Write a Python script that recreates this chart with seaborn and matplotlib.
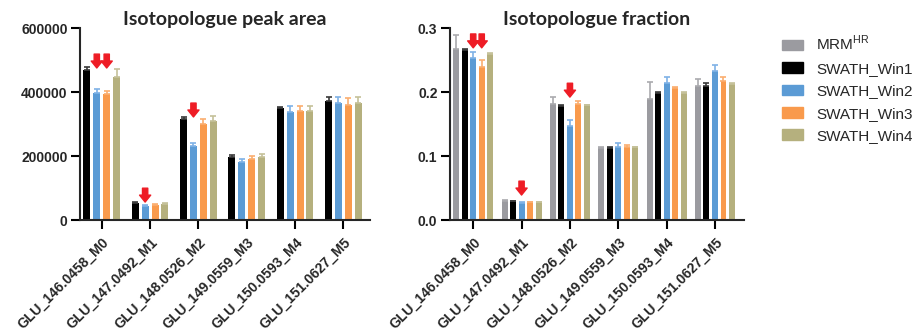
import numpy as np
import pandas as pd
import matplotlib
matplotlib.use("Agg")
import matplotlib.pyplot as plt
import seaborn as sns

# ---- data -------------------------------------------------------------
isotopologues = ["GLU_146.0458_M0", "GLU_147.0492_M1", "GLU_148.0526_M2",
                 "GLU_149.0559_M3", "GLU_150.0593_M4", "GLU_151.0627_M5"]
series = ["MRM$^{\\mathrm{HR}}$", "SWATH_Win1", "SWATH_Win2", "SWATH_Win3", "SWATH_Win4"]
bar_colors = ["#9b9ba0", "#000000", "#5b9bd5", "#f99a4c", "#b5b07e"]
err_colors = ["#aaaaae", "#3a3a3a", "#7fb2e6", "#fbae70", "#c5c199"]

# peak area (mean, SD) for the SWATH windows
area_win1 = [470000, 54000, 315000, 198000, 349000, 372000]
area_win1_sd = [7000, 3000, 6000, 5000, 5000, 13000]
area_win2 = [396000, 44000, 231000, 181000, 339000, 367000]
area_win2_sd = [12000, 3000, 10000, 11000, 17000, 16000]
area_win3 = [394000, 47000, 300000, 190000, 342000, 359000]
area_win3_sd = [10000, 3000, 17000, 10000, 14000, 21000]
area_win4 = [446000, 51000, 310000, 196000, 342000, 367000]
area_win4_sd = [27000, 3000, 14000, 10000, 15000, 16000]

# isotopologue fraction (mean, SD)
frac_mrm = [0.267, 0.030, 0.182, 0.112, 0.189, 0.209]
frac_mrm_sd = [0.022, 0.002, 0.010, 0.0026, 0.027, 0.012]
frac_win1 = [0.266, 0.0297, 0.178, 0.1125, 0.198, 0.209]
frac_win1_sd = [0.0015, 0.0005, 0.0017, 0.001, 0.0015, 0.0045]
frac_win2 = [0.2526, 0.027, 0.147, 0.1146, 0.2146, 0.233]
frac_win2_sd = [0.010, 0.0016, 0.009, 0.0064, 0.0094, 0.0087]
frac_win3 = [0.2396, 0.0281, 0.181, 0.114, 0.207, 0.2177]
frac_win3_sd = [0.010, 0.0005, 0.0044, 0.003, 0.001, 0.0053]
frac_win4 = [0.259, 0.0281, 0.179, 0.1135, 0.198, 0.2125]
frac_win4_sd = [0.002, 0.0005, 0.001, 0.001, 0.0015, 0.0015]

# red markers: (isotopologue index, series name, arrow tip value)
area_arrows = [(0, "SWATH_Win2", 475000), (0, "SWATH_Win3", 475000),
               (1, "SWATH_Win2", 56000), (2, "SWATH_Win2", 322000)]
frac_arrows = [(0, "SWATH_Win2", 0.269), (0, "SWATH_Win3", 0.269),
               (1, "SWATH_Win2", 0.039), (2, "SWATH_Win2", 0.192)]


def long_table(names, means, sds):
    rows = []
    for name, m, s in zip(names, means, sds):
        for iso, v, e in zip(isotopologues, m, s):
            rows.append({"iso": iso, "series": name, "value": v, "sd": e})
    return pd.DataFrame(rows)


area_df = long_table(series[1:], [area_win1, area_win2, area_win3, area_win4],
                     [area_win1_sd, area_win2_sd, area_win3_sd, area_win4_sd])
frac_df = long_table(series, [frac_mrm, frac_win1, frac_win2, frac_win3, frac_win4],
                     [frac_mrm_sd, frac_win1_sd, frac_win2_sd, frac_win3_sd, frac_win4_sd])

# ---- style ------------------------------------------------------------
sns.set_theme(style="ticks")
plt.rcParams["font.family"] = ["Liberation Sans", "DejaVu Sans"]
plt.rcParams["mathtext.fontset"] = "custom"
plt.rcParams["mathtext.rm"] = "Liberation Sans"

fig = plt.figure(figsize=(9.17, 3.34), dpi=100)
ax1 = fig.add_axes([80 / 917, 114 / 334, 290 / 917, 192 / 334])
ax2 = fig.add_axes([450 / 917, 114 / 334, 294 / 917, 192 / 334])


def draw_panel(ax, df, names, width, arrows, title, ylim, yticks, ylabels, xlim):
    pal = {n: bar_colors[series.index(n)] for n in names}
    sns.barplot(data=df, x="iso", y="value", hue="series", hue_order=names,
                order=isotopologues, palette=pal, width=width, gap=0.3,
                errorbar=None, saturation=1, linewidth=0, legend=False, ax=ax)
    centers = {}
    for name, cont in zip(names, ax.containers):
        sub = df[df["series"] == name].set_index("iso").loc[isotopologues]
        xs = [p.get_x() + p.get_width() / 2 for p in cont.patches]
        hs = [p.get_height() for p in cont.patches]
        ec = err_colors[series.index(name)]
        ax.errorbar(xs, hs, yerr=[np.zeros(len(xs)), sub["sd"].values], fmt="none",
                    ecolor=ec, elinewidth=1.2, capsize=2.2, capthick=1.2, zorder=3)
        centers[name] = xs
    for gi, name, tip in arrows:
        ax.annotate("", xy=(centers[name][gi], tip), xytext=(0, 10),
                    textcoords="offset points",
                    arrowprops=dict(arrowstyle="simple,head_length=0.5,head_width=0.8,tail_width=0.38",
                                    color="#ee1c25", mutation_scale=10,
                                    shrinkA=0, shrinkB=0), zorder=5)
    ax.set_xlim(*xlim)
    ax.set_ylim(*ylim)
    ax.set_yticks(yticks)
    ax.set_yticklabels(ylabels, fontsize=10, fontweight="bold")
    ax.set_xticks(range(len(isotopologues)))
    ax.set_xticklabels(isotopologues, rotation=45, ha="right", va="top",
                       rotation_mode="anchor", fontsize=10, fontweight="bold")
    ax.set_xlabel("")
    ax.set_ylabel("")
    ax.set_title(title, fontsize=14, fontweight="bold", family="Lato", pad=1)
    for side in ("left", "bottom"):
        ax.spines[side].set_linewidth(1.5)
    sns.despine(ax=ax)
    ax.tick_params(axis="both", length=6.5, width=1.5, pad=2.5, color="black")
    ax.tick_params(axis="x", pad=4.5)


draw_panel(ax1, area_df, series[1:], 0.82, area_arrows, "Isotopologue peak area",
           (0, 600000), [0, 200000, 400000, 600000],
           ["0", "200000", "400000", "600000"], (-0.45, 5.55))
draw_panel(ax2, frac_df, series, 0.88, frac_arrows, "Isotopologue fraction",
           (0, 0.3), [0.0, 0.1, 0.2, 0.3], ["0.0", "0.1", "0.2", "0.3"], (-0.48, 5.6))

# legend for all five series
handles = [plt.Rectangle((0, 0), 1, 1, color=c) for c in bar_colors]
fig.legend(handles, series, loc="upper left", bbox_to_anchor=(776 / 917, 1 - 28 / 334),
           frameon=False, fontsize=11, handlelength=1.35, handleheight=0.7,
           handletextpad=0.9, labelspacing=0.55, borderaxespad=0)

fig.savefig("out.png", dpi=100)
